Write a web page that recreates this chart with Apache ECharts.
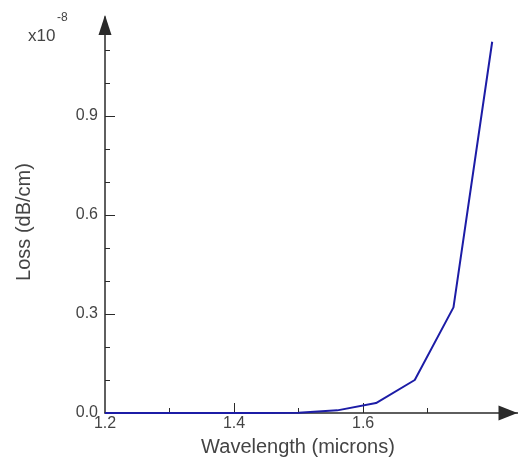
<!DOCTYPE html>
<html><head><meta charset="utf-8">
<script src="https://cdn.jsdelivr.net/npm/echarts@6/dist/echarts.min.js"></script>
<style>html,body{margin:0;padding:0;background:#fff}#c{width:518px;height:459px}</style>
</head><body><div id="c"></div>
<script>
const wavelength = [1.2, 1.26, 1.32, 1.38, 1.44, 1.5, 1.56, 1.62, 1.68, 1.74, 1.8];
const loss = [0, 0, 0, 0, 0, 0.001, 0.008, 0.03, 0.1, 0.32, 1.125];
const xLabelValues = [1.2, 1.4, 1.6];
const xMajorTicks = [1.4, 1.6];
const xMinorTicks = [1.3, 1.5, 1.7];
const yMajorTicks = [0.3, 0.6, 0.9];
const yTitle = 'Loss (dB/cm)';
const xTitle = 'Wavelength (microns)';

const font = 'Liberation Sans, Arial, sans-serif';
const axisColor = '#2a2a2a';
const chart = echarts.init(document.getElementById('c'));
chart.setOption({
  animation: false,
  grid: {left: 105, right: 0, top: 17, bottom: 46, containLabel: false},
  xAxis: [{
    type: 'value', min: 1.2, max: 1.84, interval: 0.2,
    axisLine: {lineStyle: {color: axisColor, width: 1.5}, symbol: ['none', 'triangle'], symbolSize: [15, 19], symbolOffset: [0, -10]},
    axisTick: {show: true, inside: true, length: 10, customValues: xMajorTicks, lineStyle: {color: axisColor}},
    axisLabel: {customValues: xLabelValues, color: '#444', fontSize: 16, fontFamily: font, margin: 3,
      formatter: v => v.toFixed(1)},
    splitLine: {show: false}
  }, {
    type: 'value', min: 1.2, max: 1.84, position: 'bottom',
    axisLine: {show: false},
    axisTick: {show: true, inside: true, length: 5, customValues: xMinorTicks, lineStyle: {color: axisColor}},
    axisLabel: {show: false},
    splitLine: {show: false}
  }],
  yAxis: {
    type: 'value', min: 0, max: 1.2, interval: 0.3,
    axisLine: {show: true, lineStyle: {color: axisColor, width: 1.5}, symbol: ['none', 'triangle'], symbolSize: [13, 20], symbolOffset: [0, -8]},
    axisTick: {show: true, inside: true, length: 10, customValues: yMajorTicks, lineStyle: {color: axisColor}},
    minorTick: {show: true, splitNumber: 3, length: 5, lineStyle: {color: axisColor}},
    axisLabel: {showMaxLabel: false, color: '#444', fontSize: 16, fontFamily: font, margin: 7,
      formatter: v => v.toFixed(1)},
    splitLine: {show: false}, minorSplitLine: {show: false}
  },
  graphic: [
    {type: 'text', left: 28, top: 28, style: {text: 'x10', fontSize: 17, fontFamily: font, fill: '#444'}},
    {type: 'text', left: 57, top: 12, style: {text: '-8', fontSize: 12, fontFamily: font, fill: '#444'}},
    {type: 'text', x: 24, y: 222, rotation: Math.PI / 2,
      style: {text: yTitle, fontSize: 20, fontFamily: font, fill: '#444', align: 'center', verticalAlign: 'middle'}},
    {type: 'text', x: 298, y: 447,
      style: {text: xTitle, fontSize: 20, fontFamily: font, fill: '#444', align: 'center', verticalAlign: 'middle'}}
  ],
  series: [{
    type: 'line', xAxisIndex: 0, data: wavelength.map((w, i) => [w, loss[i]]),
    showSymbol: false, lineStyle: {color: '#1c1ca6', width: 2}
  }]
});
</script></body></html>
